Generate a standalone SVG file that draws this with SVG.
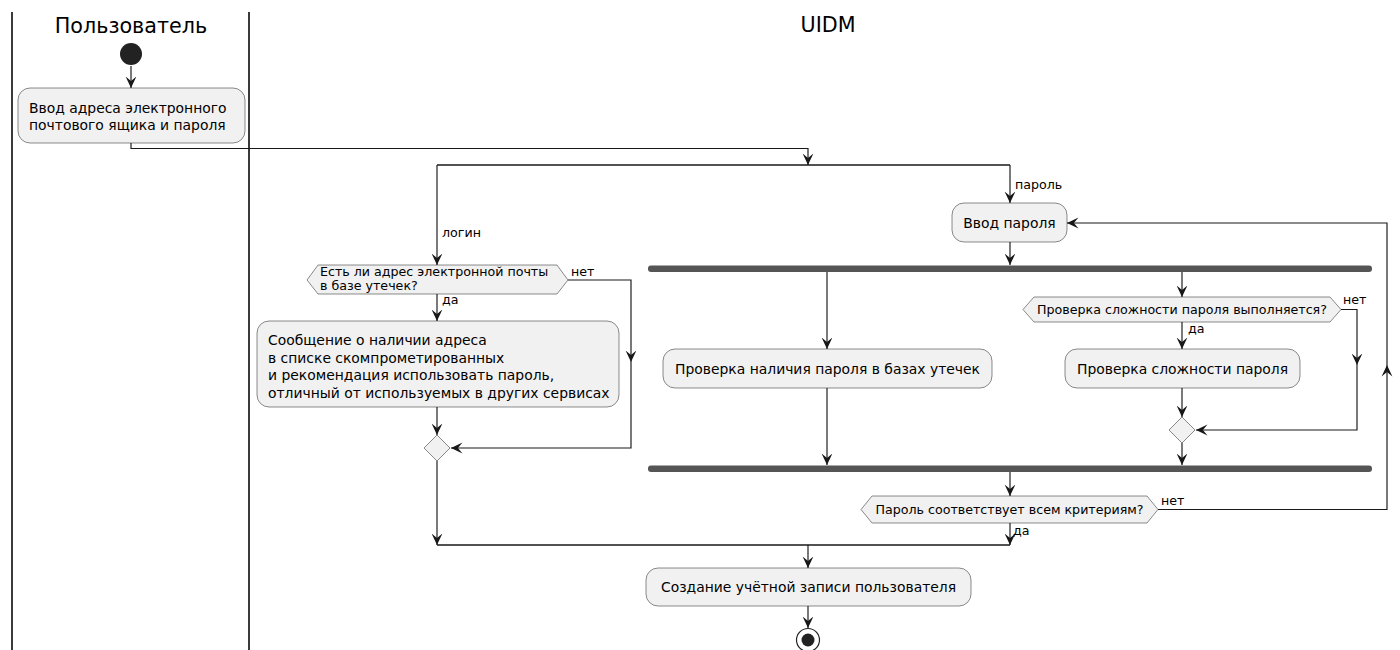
<svg xmlns="http://www.w3.org/2000/svg" width="1400" height="650" viewBox="0 0 1400 650">
<defs>
<marker id="ah" viewBox="0 0 12 12" refX="11.5" refY="6" markerWidth="12" markerHeight="12" markerUnits="userSpaceOnUse" orient="auto">
<path d="M11.5,6 L0,0.6 L4.6,6 L0,11.4 Z" fill="#181818"/>
</marker>
</defs>
<style>
.lane{stroke:#181818;stroke-width:1.7}
.title{font-family:"DejaVu Sans",sans-serif;font-size:20.7px;fill:#000}
.act{fill:#F1F1F1;stroke:#181818;stroke-width:0.5}
.t{font-family:"DejaVu Sans",sans-serif;font-size:13.9px;fill:#000}
.s{font-family:"DejaVu Sans",sans-serif;font-size:12.65px;fill:#000}
.c{text-anchor:middle}
.e{fill:none;stroke:#181818;stroke-width:1.15}
.ea{marker-end:url(#ah)}
.bar{fill:#555555}
</style>
<rect width="1400" height="650" fill="#FFFFFF"/>
<g id="lanes">
<line class="lane" x1="12" y1="12" x2="12" y2="650"/>
<line class="lane" x1="249" y1="12" x2="249" y2="650"/>
<text class="title c" x="131" y="33">Пользователь</text>
<text class="title c" x="828" y="32">UIDM</text>
</g>
<g id="connectors">
<path class="e ea" d="M131,66 V88"/>
<path class="e ea" d="M131,143 V148.5 H808 V165"/>
<path class="e" style="stroke-width:1.6" d="M437,165 H1010"/>
<path class="e ea" d="M437,165 V265"/>
<path class="e ea" d="M1010,165 V203"/>
<path class="e ea" d="M1010,242 V265"/>
<path class="e ea" d="M437,294 V321"/>
<path class="e ea" d="M568,280 H631 V362"/>
<path class="e ea" d="M631,362 V448 H451"/>
<path class="e ea" d="M437,407 V435"/>
<path class="e ea" d="M437,461 V545"/>
<path class="e ea" d="M827,272 V349"/>
<path class="e ea" d="M827,388 V465"/>
<path class="e ea" d="M1182,272 V297"/>
<path class="e ea" d="M1182,322 V349"/>
<path class="e ea" d="M1182,388 V417"/>
<path class="e ea" d="M1182,443 V465"/>
<path class="e ea" d="M1341,309.5 H1357 V365"/>
<path class="e ea" d="M1357,365 V430 H1196"/>
<path class="e ea" d="M1010,472 V496"/>
<path class="e ea" d="M1158,509.5 H1387 V365"/>
<path class="e ea" d="M1387,365 V223 H1067"/>
<path class="e ea" d="M1010,523 V545"/>
<path class="e" style="stroke-width:1.6" d="M437,545 H1010"/>
<path class="e ea" d="M808,545 V568"/>
<path class="e ea" d="M808,606 V628"/>
<text class="s" x="442" y="237">логин</text>
<text class="s" x="1015" y="189">пароль</text>
<text class="s" x="571" y="276">нет</text>
<text class="s" x="442" y="304">да</text>
<text class="s" x="1188" y="333">да</text>
<text class="s" x="1343" y="304">нет</text>
<text class="s" x="1161" y="505">нет</text>
<text class="s" x="1013" y="535">да</text>
</g>
<g id="start"><circle cx="131" cy="54" r="11" fill="#222222"/></g>
<g id="input-email">
<rect class="act" x="18" y="88" width="227" height="55" rx="12"/>
<text class="t" x="29" y="113">Ввод адреса электронного</text>
<text class="t" x="29" y="130">почтового ящика и пароля</text>
</g>
<g id="input-password">
<rect class="act" x="952" y="203" width="115" height="39" rx="12"/>
<text class="t c" x="1009.5" y="228">Ввод пароля</text>
</g>
<g id="decision-email">
<polygon class="act" points="307,280 318,265 557,265 568,280 557,294 318,294"/>
<text class="s" x="320" y="276">Есть ли адрес электронной почты</text>
<text class="s" x="320" y="290">в базе утечек?</text>
</g>
<g id="message">
<rect class="act" x="257" y="321" width="362" height="86" rx="12"/>
<text class="t" x="268" y="345">Сообщение о наличии адреса</text>
<text class="t" x="268" y="362.5">в списке скомпрометированных</text>
<text class="t" x="268" y="380">и рекомендация использовать пароль,</text>
<text class="t" x="268" y="397.5">отличный от используемых в других сервисах</text>
</g>
<g id="merge-email"><polygon class="act" points="437,435 450,448 437,461 424,448"/></g>
<g id="fork"><rect class="bar" x="648" y="265.5" width="724" height="6.5" rx="3"/></g>
<g id="check-leaks">
<rect class="act" x="663" y="349" width="329" height="39" rx="12"/>
<text class="t c" x="827.5" y="374">Проверка наличия пароля в базах утечек</text>
</g>
<g id="decision-complexity">
<polygon class="act" points="1023,309.5 1034,297 1330,297 1341,309.5 1330,322 1034,322"/>
<text class="s c" x="1182" y="314">Проверка сложности пароля выполняется?</text>
</g>
<g id="check-complexity">
<rect class="act" x="1065" y="349" width="235" height="39" rx="12"/>
<text class="t c" x="1182.5" y="374">Проверка сложности пароля</text>
</g>
<g id="merge-complexity"><polygon class="act" points="1182,417 1195,430 1182,443 1169,430"/></g>
<g id="join"><rect class="bar" x="648" y="465.5" width="724" height="6.5" rx="3"/></g>
<g id="decision-criteria">
<polygon class="act" points="861,509.5 872,496 1147,496 1158,509.5 1147,523 872,523"/>
<text class="s c" x="1009.5" y="514">Пароль соответствует всем критериям?</text>
</g>
<g id="create-account">
<rect class="act" x="646" y="568" width="325" height="38" rx="12"/>
<text class="t c" x="808.5" y="592">Создание учётной записи пользователя</text>
</g>
<g id="end">
<circle cx="808" cy="640" r="11.5" fill="#FFFFFF" stroke="#222222" stroke-width="1.2"/>
<circle cx="808" cy="640" r="6.5" fill="#222222"/>
</g>
</svg>
